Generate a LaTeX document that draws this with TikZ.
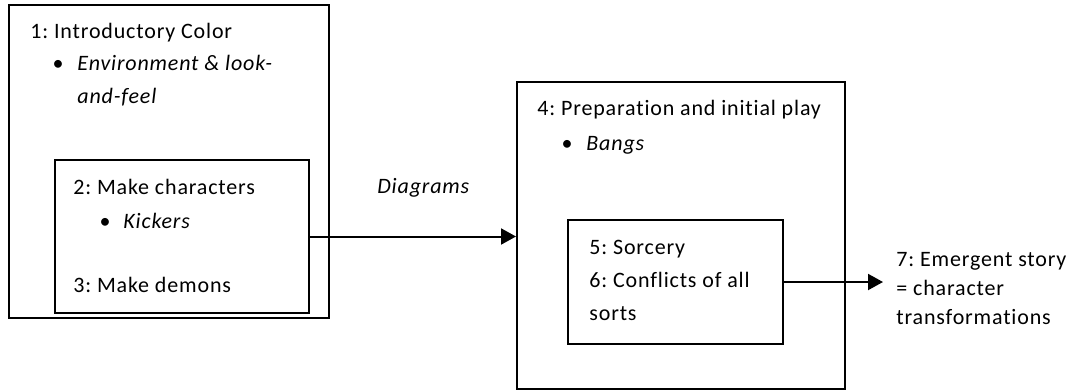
\documentclass[tikz,border=0pt]{standalone}
\usepackage{fontspec}
\setmainfont[Ligatures=NoCommon, LetterSpace=3.8]{Carlito}
\frenchspacing
\usetikzlibrary{arrows.meta}

\begin{document}
\begin{tikzpicture}[
  x=0.5pt, y=-0.5pt,
  box/.style={draw, line width=1pt, inner sep=0pt},
  txt/.style={font=\fontsize{11}{16.5}\selectfont, inner sep=0pt, anchor=base west, align=left},
  itm/.style={txt, font=\fontsize{11}{16.5}\selectfont\itshape},
  bulletmark/.style={txt, anchor=base},
  flow/.style={-{Triangle[length=7.5pt,width=8pt]}, line width=1pt}]

\useasboundingbox (0,0) rectangle (1075,391);

% The stage boxes, outer ones first
\node[box, minimum width=160pt, minimum height=156.5pt] (intro) at (169,161.5) {};
\node[box, minimum width=127pt, minimum height=76.5pt] (chars) at (182,236.5) {};
\node[box, minimum width=164pt, minimum height=153.5pt] (prep) at (681,235.5) {};
\node[box, minimum width=107.5pt, minimum height=62pt] (sorc) at (675.5,282) {};

% Texts inside the boxes (base of a multi-line node = its last line)
\node[txt] (introText) at (30,39) {1: Introductory Color};
\node[bulletmark] (introDot) at (58,70) {\textbullet};
\node[itm] (introItem) at (77,103) {Environment \& look-\\and-feel};
\node[txt] (charsText) at (73,194) {2: Make characters};
\node[bulletmark] (charsDot) at (105,228) {\textbullet};
\node[itm] (charsItem) at (123,228) {Kickers};
\node[txt] (demonsText) at (73,292) {3: Make demons};
\node[txt] (prepText) at (537,115) {4: Preparation and initial play};
\node[bulletmark] (prepDot) at (567,150) {\textbullet};
\node[itm] (prepItem) at (586,150) {Bangs};
\node[txt] (sorcText) at (589,320) {5: Sorcery\\6: Conflicts of all\\sorts};

% Texts outside
\node[itm] (diagrams) at (377,193) {Diagrams};
\node[txt, font=\fontsize{11}{14.5}\selectfont] (story) at (896,324) {7: Emergent story\\= character\\transformations};

% Arrows between the boxes
\draw[flow] (chars.east) -- (chars.east -| prep.west);
\draw[flow, shorten >=6.5pt] (sorc.east) -- (sorc.east -| story.west);

\end{tikzpicture}
\end{document}
